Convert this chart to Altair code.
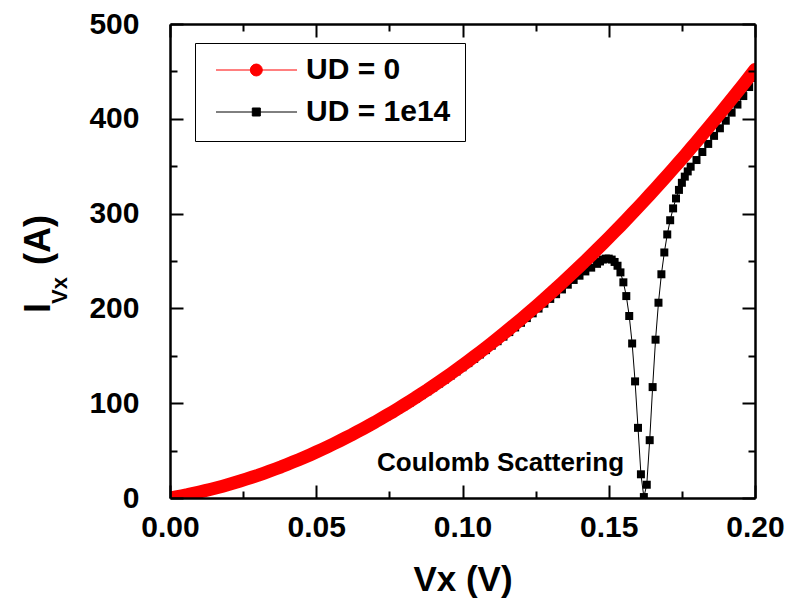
import altair as alt
import pandas as pd

FONT = "Liberation Sans"

# ---------------- data ----------------
# UD = 0 (red circles), Vx step 0.002 V
vx_red = [round(0.002 * i, 3) for i in range(101)]
i_red = [0.0, 1.1, 2.3, 3.5, 4.9, 6.3, 7.7, 9.2, 10.8, 12.5, 14.2, 16.0, 17.9, 19.9, 21.9,
         23.9, 26.1, 28.3, 30.6, 32.9, 35.4, 37.9, 40.4, 43.0, 45.7, 48.5, 51.3, 54.2, 57.2,
         60.3, 63.4, 66.5, 69.8, 73.1, 76.5, 79.9, 83.5, 87.1, 90.7, 94.4, 98.2, 102.1, 106.0,
         110.1, 114.1, 118.3, 122.5, 126.8, 131.1, 135.5, 140.0, 144.6, 149.2, 153.9, 158.6,
         163.5, 168.4, 173.3, 178.4, 183.5, 188.6, 193.9, 199.2, 204.6, 210.0, 215.5, 221.1,
         226.8, 232.5, 238.3, 244.2, 250.1, 256.1, 262.2, 268.3, 274.5, 280.8, 287.1, 293.5,
         300.0, 306.6, 313.2, 319.9, 326.6, 333.5, 340.3, 347.3, 354.3, 361.4, 368.6, 375.8,
         383.2, 390.5, 398.0, 405.5, 413.1, 420.7, 428.4, 436.2, 444.1, 452.0]

# UD = 1e14 (black squares)
vx_blk = ([round(0.002 * i, 3) for i in range(74)]
          + [round(0.147 + 0.001 * i, 3) for i in range(32)]
          + [round(0.180 + 0.002 * i, 3) for i in range(11)])
i_blk = [0.0, 1.1, 2.3, 3.5, 4.8, 6.2, 7.6, 9.1, 10.7, 12.3, 14.0, 15.8, 17.6, 19.5, 21.5,
         23.6, 25.7, 27.9, 30.2, 32.5, 34.9, 37.4, 39.9, 42.5, 45.2, 47.9, 50.7, 53.6, 56.5,
         59.5, 62.6, 65.7, 68.9, 72.2, 75.5, 78.9, 82.4, 85.9, 89.5, 93.2, 96.9, 100.7, 104.6,
         108.5, 112.5, 116.6, 120.7, 124.9, 129.2, 133.5, 137.9, 142.3, 146.8, 151.4, 156.0,
         160.7, 165.4, 170.2, 175.0, 179.9, 184.8, 189.8, 194.8, 199.8, 204.9, 210.0, 215.0,
         220.0, 225.0, 230.0, 234.5, 239.0, 243.0, 247.0,
         249.5, 251.5, 252.5, 252.5, 251.5, 249.0, 245.0, 238.0, 227.5, 213.0, 192.0, 163.0,
         123.0, 74.0, 25.0, 1.0, 14.0, 61.0, 117.0, 167.0, 206.0, 236.0, 259.0, 278.0, 293.0,
         305.5, 316.0, 325.0, 332.5, 339.0, 344.5, 349.5,
         356.5, 365.0, 373.5, 382.0, 390.0, 398.0, 406.5, 415.0, 424.0, 433.5, 443.0]

series_names = ["UD = 0", "UD = 1e14"]
series_colors = ["#ff0000", "#000000"]
x_major = [0.0, 0.05, 0.10, 0.15, 0.20]
x_minor = [0.025, 0.075, 0.125, 0.175]
y_major = [0, 100, 200, 300, 400, 500]
y_minor = [50, 150, 250, 350, 450]
note_text = ["Coulomb Scattering"]
note_vx = [0.113]
note_i = [29]

df_red = pd.DataFrame({"Vx": vx_red, "I": i_red})
df_blk = pd.DataFrame({"Vx": vx_blk, "I": i_blk})
df_leg = pd.DataFrame({"series": series_names, "Vx": [-1, -1], "I": [-100, -100]})
df_note = pd.DataFrame({"Vx": note_vx, "I": note_i, "t": note_text})

XS = alt.Scale(domain=[0, 0.2], nice=False, zero=False)
YS = alt.Scale(domain=[0, 500], nice=False, zero=False)


def axis(orient, values, size, labels=False, domain=False, **kw):
    return alt.Axis(orient=orient, values=values, labels=labels, domain=domain,
                    domainColor="black", domainWidth=2.5, grid=False,
                    tickSize=alt.ExprRef(expr=str(-size)), tickWidth=2, tickColor="black",
                    zindex=1, **kw)


lab = dict(labelFont=FONT, labelFontSize=30, labelFontWeight="bold", labelColor="black",
           labelFlush=False, labelOverlap=False)

ax_x_bot = axis("bottom", x_major, 13, labels=True, domain=True, format=".2f",
                labelPadding=27, title="Vx (V)", titleFont=FONT, titleFontSize=35,
                titleFontWeight="bold", titleColor="black", titlePadding=20, **lab)
ax_y_left = axis("left", y_major, 13, labels=True, domain=True, labelPadding=44,
                 title=None, **lab)
ax_x_bot_m = axis("bottom", x_minor, 7, title=None)
ax_y_left_m = axis("left", y_minor, 7, title=None)
ax_x_top = axis("top", x_major, 13, domain=True, title=None)
ax_y_right = axis("right", y_major, 13, domain=True, title=None)
ax_x_top_m = axis("top", x_minor, 7, title=None)
ax_y_right_m = axis("right", y_minor, 7, title=None)

blk_line = alt.Chart(df_blk).mark_line(color="black", strokeWidth=1, clip=True).encode(
    x=alt.X("Vx:Q", scale=XS, axis=ax_x_top),
    y=alt.Y("I:Q", scale=YS, axis=ax_y_right),
)
blk_pts = alt.Chart(df_blk).mark_point(shape="square", filled=True, size=64, color="black",
                                       opacity=1, clip=True).encode(
    x=alt.X("Vx:Q", scale=XS, axis=ax_x_top_m),
    y=alt.Y("I:Q", scale=YS, axis=ax_y_right_m),
)
# dense red circles merge into one thick band in the reference
red_line = alt.Chart(df_red).mark_line(color="#ff0000", strokeWidth=13, strokeCap="round",
                                       strokeJoin="round", clip=True).encode(
    x=alt.X("Vx:Q", scale=XS, axis=ax_x_bot),
    y=alt.Y("I:Q", scale=YS, axis=ax_y_left),
)
red_pts = alt.Chart(df_red).mark_point(shape="circle", filled=True, size=130, color="#ff0000",
                                       opacity=1, clip=True).encode(
    x=alt.X("Vx:Q", scale=XS, axis=ax_x_bot_m),
    y=alt.Y("I:Q", scale=YS, axis=ax_y_left_m),
)

# legend symbols: line segment with the marker on it
sym_red = "M-0.852,0L0.989,0M-0.072,0A0.136,0.136,0,1,0,0.2,0A0.136,0.136,0,1,0,-0.072,0Z"
sym_blk = "M-0.852,0L0.989,0M-0.027,-0.091L0.155,-0.091L0.155,0.091L-0.027,0.091Z"
LEG = alt.Legend(orient="none", legendX=25, legendY=19, title=None, padding=14,
                 strokeColor="#000000", fillColor="#ffffff", labelFont=FONT, labelFontSize=30,
                 labelFontWeight="bold", labelColor="black", symbolSize=7744,
                 symbolStrokeWidth=1, clipHeight=26, rowPadding=12, labelOffset=8,
                 labelLimit=400)
legend_layer = alt.Chart(df_leg).mark_point(filled=True, size=7744, opacity=1, clip=True,
                                            strokeWidth=1).encode(
    x=alt.X("Vx:Q", scale=XS, axis=None),
    y=alt.Y("I:Q", scale=YS, axis=None),
    fill=alt.Fill("series:N", scale=alt.Scale(domain=series_names, range=series_colors),
                  legend=LEG),
    stroke=alt.Stroke("series:N", scale=alt.Scale(domain=series_names, range=series_colors),
                      legend=LEG),
    shape=alt.Shape("series:N", scale=alt.Scale(domain=series_names, range=[sym_red, sym_blk]),
                    legend=LEG),
)

note = alt.Chart(df_note).mark_text(font=FONT, fontSize=26, fontWeight="bold", color="black",
                                    align="center", baseline="alphabetic").encode(
    x=alt.X("Vx:Q", scale=XS, axis=None),
    y=alt.Y("I:Q", scale=YS, axis=None),
    text="t:N",
)


def ytitle_part(txt, px, py, fs):
    return alt.Chart(pd.DataFrame({"t": [txt]})).mark_text(
        font=FONT, fontSize=fs, fontWeight="bold", color="black", angle=270,
        align="left", baseline="alphabetic").encode(
        x=alt.value(px), y=alt.value(py), text="t:N")


yt1 = ytitle_part("I", -120, 289, 36)
yt2 = ytitle_part("Vx", -103, 280, 22)
yt3 = ytitle_part("(A)", -120, 241, 36)

chart = alt.layer(blk_line, blk_pts, red_line, red_pts, legend_layer, note, yt1, yt2, yt3
                  ).resolve_axis(x="independent", y="independent").properties(
    width=585, height=474,
    autosize=alt.AutoSizeParams(type="none"),
    padding={"left": 162, "top": 16, "right": 30, "bottom": 100},
).configure_view(stroke="transparent")

chart.save("out.html", embed_options={"renderer": "svg", "actions": False})
